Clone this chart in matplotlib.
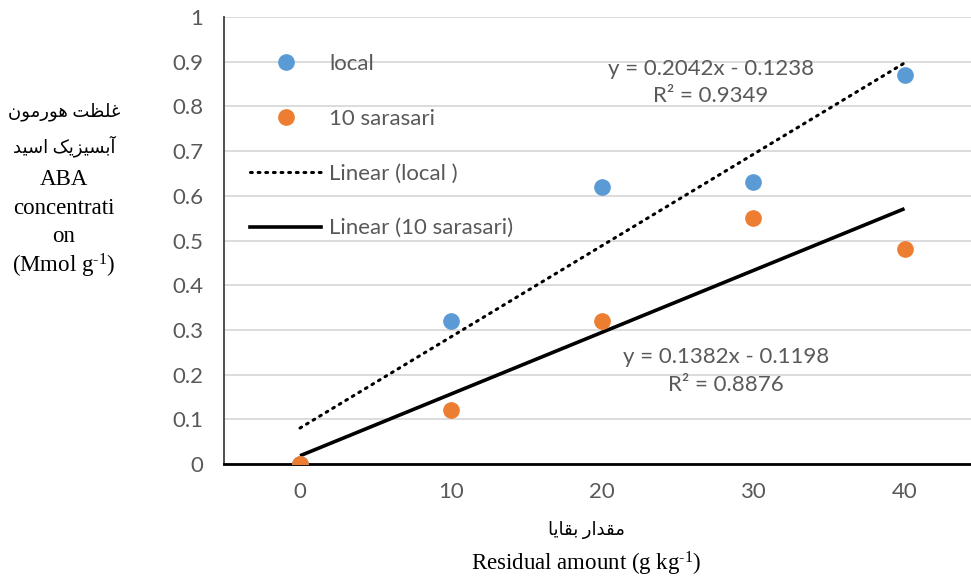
import numpy as np
import matplotlib
matplotlib.use("Agg")
import matplotlib.pyplot as plt
from matplotlib.lines import Line2D

plt.rcParams["mathtext.fontset"] = "custom"
plt.rcParams["mathtext.rm"] = "Liberation Serif"
plt.rcParams["mathtext.it"] = "Liberation Serif:italic"

# data
residual = [0, 10, 20, 30, 40]
local = [0.0, 0.32, 0.62, 0.63, 0.87]
sarasari = [0.0, 0.12, 0.32, 0.55, 0.48]
series_names = ["local", "10 sarasari"]

# Excel trendlines (x is the category index 1..5)
trend_slope = [0.2042, 0.1382]
trend_intercept = [-0.1238, -0.1198]
trend_r2 = [0.9349, 0.8876]

y_ticks = [0, 0.1, 0.2, 0.3, 0.4, 0.5, 0.6, 0.7, 0.8, 0.9, 1]

BLUE = "#5B9BD5"
ORANGE = "#ED7D31"
GREY = "#595959"
TICK_FONT = ["Lato", "DejaVu Sans"]
SERIF = ["Liberation Serif", "DejaVu Sans"]
FS = 16
MS = 11
DOTS = (0, (0.6, 1.9))

# minimal Arabic/Persian shaping: (isolated, final, initial, medial)
_FORMS = {
    "\u0627": ("\uFE8D", "\uFE8E", None, None),
    "\u0622": ("\uFE81", "\uFE82", None, None),
    "\u0628": ("\uFE8F", "\uFE90", "\uFE91", "\uFE92"),
    "\u062A": ("\uFE95", "\uFE96", "\uFE97", "\uFE98"),
    "\u062F": ("\uFEA9", "\uFEAA", None, None),
    "\u0631": ("\uFEAD", "\uFEAE", None, None),
    "\u0632": ("\uFEAF", "\uFEB0", None, None),
    "\u0633": ("\uFEB1", "\uFEB2", "\uFEB3", "\uFEB4"),
    "\u0638": ("\uFEC5", "\uFEC6", "\uFEC7", "\uFEC8"),
    "\u063A": ("\uFECD", "\uFECE", "\uFECF", "\uFED0"),
    "\u0642": ("\uFED5", "\uFED6", "\uFED7", "\uFED8"),
    "\u0644": ("\uFEDD", "\uFEDE", "\uFEDF", "\uFEE0"),
    "\u0645": ("\uFEE1", "\uFEE2", "\uFEE3", "\uFEE4"),
    "\u0646": ("\uFEE5", "\uFEE6", "\uFEE7", "\uFEE8"),
    "\u0647": ("\uFEE9", "\uFEEA", "\uFEEB", "\uFEEC"),
    "\u0648": ("\uFEED", "\uFEEE", None, None),
    "\u06A9": ("\uFB8E", "\uFB8F", "\uFB90", "\uFB91"),
    "\u06CC": ("\uFBFC", "\uFBFD", "\uFBFE", "\uFBFF"),
}


def shape_fa(text: str) -> str:
    out = []
    for i, ch in enumerate(text):
        if ch not in _FORMS:
            out.append(ch)
            continue
        prev = text[i - 1] if i > 0 else ""
        nxt = text[i + 1] if i + 1 < len(text) else ""
        join_prev = prev in _FORMS and _FORMS[prev][2] is not None
        join_next = nxt in _FORMS and _FORMS[ch][2] is not None
        iso, fin, ini, med = _FORMS[ch]
        if join_prev and join_next:
            out.append(med)
        elif join_prev:
            out.append(fin)
        elif join_next:
            out.append(ini)
        else:
            out.append(iso)
    return "".join(out)[::-1]


fig = plt.figure(figsize=(9.71, 5.81), dpi=100)
ax = fig.add_axes([0.2307, 0.2014, 0.7693, 0.7693])

idx = np.arange(1, len(residual) + 1)
xs = np.array(residual, dtype=float)

# trendlines
fit_local = trend_slope[0] * idx + trend_intercept[0]
fit_sar = trend_slope[1] * idx + trend_intercept[1]
ax.plot(xs, fit_local, color="black", lw=2.2, linestyle=DOTS,
        dash_capstyle="round", zorder=3)
ax.plot(xs, fit_sar, color="black", lw=2.6, solid_capstyle="butt", zorder=3)

ax.plot(xs, local, "o", color=BLUE, ms=MS, zorder=4)
ax.plot(xs, sarasari, "o", color=ORANGE, ms=MS, zorder=5)

ax.set_xlim(-5.03, 44.4)
ax.set_ylim(0, 1)
ax.set_yticks(y_ticks)
ax.set_yticklabels([f"{v:g}" for v in y_ticks])
ax.set_xticks(residual)
ax.set_xticklabels([str(v) for v in residual])
ax.grid(axis="y", color="#D9D9D9", lw=1.3)
ax.set_axisbelow(True)
for side in ("top", "right"):
    ax.spines[side].set_visible(False)
ax.spines["left"].set_color("#404040")
ax.spines["left"].set_linewidth(1.3)
ax.spines["bottom"].set_color("black")
ax.spines["bottom"].set_linewidth(2.0)
ax.tick_params(length=0, colors=GREY, labelsize=FS)
ax.tick_params(axis="y", pad=15)
ax.tick_params(axis="x", pad=13)
for lab in ax.get_xticklabels() + ax.get_yticklabels():
    lab.set_family(TICK_FONT)

# trendline equations
eq_style = dict(color=GREY, fontsize=FS, family=TICK_FONT, ha="center",
                va="center", linespacing=1.45)
ax.text(27.2, 0.853,
        f"y = {trend_slope[0]:.4f}x - {abs(trend_intercept[0]):.4f}\n"
        f"R\u00b2 = {trend_r2[0]:.4f}", **eq_style)
ax.text(28.2, 0.208,
        f"y = {trend_slope[1]:.4f}x - {abs(trend_intercept[1]):.4f}\n"
        f"R\u00b2 = {trend_r2[1]:.4f}", **eq_style)

# legend
handles = [
    Line2D([], [], ls="none", marker="o", ms=MS, color=BLUE),
    Line2D([], [], ls="none", marker="o", ms=MS, color=ORANGE),
    Line2D([], [], color="black", lw=2.2, linestyle=DOTS, dash_capstyle="round"),
    Line2D([], [], color="black", lw=2.6),
]
labels = [series_names[0], series_names[1],
          f"Linear ({series_names[0]} )", f"Linear ({series_names[1]})"]
leg = ax.legend(handles, labels, loc="upper left", bbox_to_anchor=(0.023, 0.938),
                frameon=False, handlelength=3.2, handletextpad=0.36,
                labelspacing=1.57, borderaxespad=0,
                prop={"family": TICK_FONT, "size": FS})
for t in leg.get_texts():
    t.set_color(GREY)

# y-axis label block
fa_y1 = shape_fa("\u063A\u0644\u0638\u062A \u0647\u0648\u0631\u0645\u0648\u0646")
fa_y2 = shape_fa("\u0622\u0628\u0633\u06CC\u0632\u06CC\u06A9 \u0627\u0633\u06CC\u062F")
ylab = [(fa_y1, 112, 13), (fa_y2, 146, 13), ("ABA", 180, 16.5),
        ("concentrati", 208, 16.5), ("on", 237, 16.5),
        (r"(Mmol g$^{\text{-1}}$)", 266, 16.5)]
for txt, ypx, size in ylab:
    fig.text(64 / 971, 1 - ypx / 581, txt, family=SERIF, fontsize=size,
             ha="center", va="center")

# x-axis label block
fa_x = shape_fa("\u0645\u0642\u062F\u0627\u0631 \u0628\u0642\u0627\u06CC\u0627")
fig.text(586 / 971, 1 - 530 / 581, fa_x, family=SERIF, fontsize=13,
         ha="center", va="center")
fig.text(586 / 971, 1 - 564 / 581, r"Residual amount (g kg$^{\text{-1}}$)",
         family=SERIF, fontsize=16.5, ha="center", va="center")

fig.savefig("out.png", dpi=100)
